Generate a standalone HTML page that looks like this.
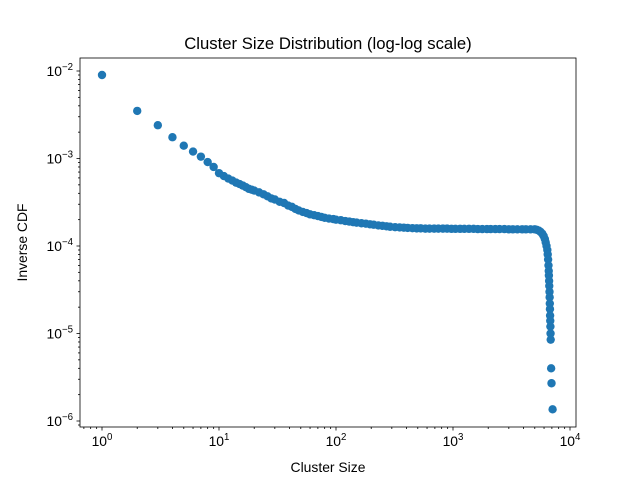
<!DOCTYPE html>
<html><head><meta charset="utf-8"><style>
body{margin:0;background:#fff;}
svg text{font-family:"Liberation Sans",sans-serif;fill:#000;}
</style></head><body>
<svg id="chart" width="640" height="480" xmlns="http://www.w3.org/2000/svg">
<rect width="640" height="480" fill="#fff"/>
<text x="328" y="49" font-size="16.7" text-anchor="middle">Cluster Size Distribution (log-log scale)</text>
<text x="328" y="472" font-size="13.9" text-anchor="middle">Cluster Size</text>
<text transform="translate(27,242.5) rotate(-90)" font-size="13.9" text-anchor="middle">Inverse CDF</text>
<g id="ticks"></g>
<g id="points"></g>
<rect x="80" y="58" width="496" height="369" fill="none" stroke="#000" stroke-width="0.8"/>
</svg>
<script>
const clusterSizes=[1,2,3,4,5,6,7,8,9,10,11,12,13,14,15,16,17,18,19,20,22,24,26,28,30,33,36,39,42,45,48,52,56,60,65,70,75,80,87,95,100,110,120,130,140,150,165,180,195,210,230,250,270,290,320,350,380,410,450,490,530,580,630,690,750,820,890,970,1050,1150,1250,1370,1500,1630,1780,1950,2100,2300,2500,2750,3000,3250,3550,3900,4200,4600,5000,5200,5400,5600,5800,5950,6100,6200,6300,6400,6450,6500,6550,6580,6600,6630,6650,6680,6700,6720,6740,6760,6780,6800,6820,6840,6900,6950,7100];
const inverseCdf=[0.009,0.0035,0.0024,0.00175,0.0014,0.0012,0.00105,0.00091,0.0008,0.00068,0.00063,0.00059,0.00056,0.00053,0.00051,0.00049,0.00047,0.00045,0.00044,0.00043,0.00041,0.00039,0.00037,0.00035,0.00034,0.00032,0.00031,0.00029,0.00028,0.000265,0.000255,0.000245,0.000238,0.00023,0.000225,0.00022,0.000215,0.00021,0.000206,0.000203,0.0002,0.000197,0.000193,0.00019,0.000187,0.000185,0.000182,0.00018,0.000177,0.000175,0.000172,0.00017,0.000168,0.000166,0.000164,0.000163,0.000162,0.000161,0.00016,0.000159,0.000159,0.000158,0.000158,0.000158,0.000158,0.000158,0.000158,0.000157,0.000157,0.000157,0.000157,0.000157,0.000157,0.000156,0.000156,0.000156,0.000156,0.000156,0.000156,0.000156,0.000155,0.000155,0.000155,0.000155,0.000155,0.000155,0.000155,0.000153,0.00015,0.000145,0.000138,0.00013,0.00012,0.00011,0.0001,0.00009,0.00008,0.00007,0.00006,0.000052,0.000046,0.00004,0.000035,0.00003,0.000026,0.000022,0.000019,0.000016,0.000014,0.000012,0.00001,0.0000085,0.000004,0.0000027,0.00000136];
const xTickLabels=["0","1","2","3","4"];
const yTickLabels=["-6","-5","-4","-3","-2"];
const NS="http://www.w3.org/2000/svg";
function xs(v){return 102+117*Math.log10(v);}
function ys(v){return 71+87.5*(-2-Math.log10(v));}
const tg=document.getElementById('ticks');
function line(x1,y1,x2,y2){const l=document.createElementNS(NS,'line');l.setAttribute('x1',x1);l.setAttribute('y1',y1);l.setAttribute('x2',x2);l.setAttribute('y2',y2);l.setAttribute('stroke','#000');l.setAttribute('stroke-width','0.8');tg.appendChild(l);return l;}
function label(x,y,e,anchor){const t=document.createElementNS(NS,'text');t.setAttribute('x',x);t.setAttribute('y',y);t.setAttribute('font-size','13.9');t.setAttribute('text-anchor',anchor);t.innerHTML='10<tspan dy="-6" font-size="9.7">'+(e.startsWith('-')?'\u2212'+e.slice(1):e)+'</tspan>';tg.appendChild(t);return t;}
xTickLabels.forEach(e=>{const p=Math.pow(10,+e);const x=xs(p);
const tk=line(x,427,x,430.5);


const t=label(x,446,e,'middle');


for(let m=2;m<10;m++){const xm=xs(p*m);if(xm>80&&xm<576){const mt=line(xm,427,xm,429);

}}});
for(let m=2;m<10;m++){const xm=xs(0.1*m);if(xm>80&&xm<576){const mt=line(xm,427,xm,429);

}}
yTickLabels.forEach(e=>{const p=Math.pow(10,+e);const y=ys(p);
const tk=line(76.5,y,80,y);


const t=label(73,y+5,e,'end');


for(let m=2;m<10;m++){const ym=ys(p*m);if(ym>58&&ym<427){const mt=line(78,ym,80,ym);

}}});
for(let m=2;m<10;m++){const ym=ys(1e-7*m);if(ym>58&&ym<427){const mt=line(78,ym,80,ym);

}}
const pg=document.getElementById('points');
clusterSizes.forEach((s,i)=>{const c=document.createElementNS(NS,'circle');
c.setAttribute('cx',xs(s));c.setAttribute('cy',ys(inverseCdf[i]));c.setAttribute('r','4.2');c.setAttribute('fill','#1f77b4');


pg.appendChild(c);});
</script>
</body></html>
